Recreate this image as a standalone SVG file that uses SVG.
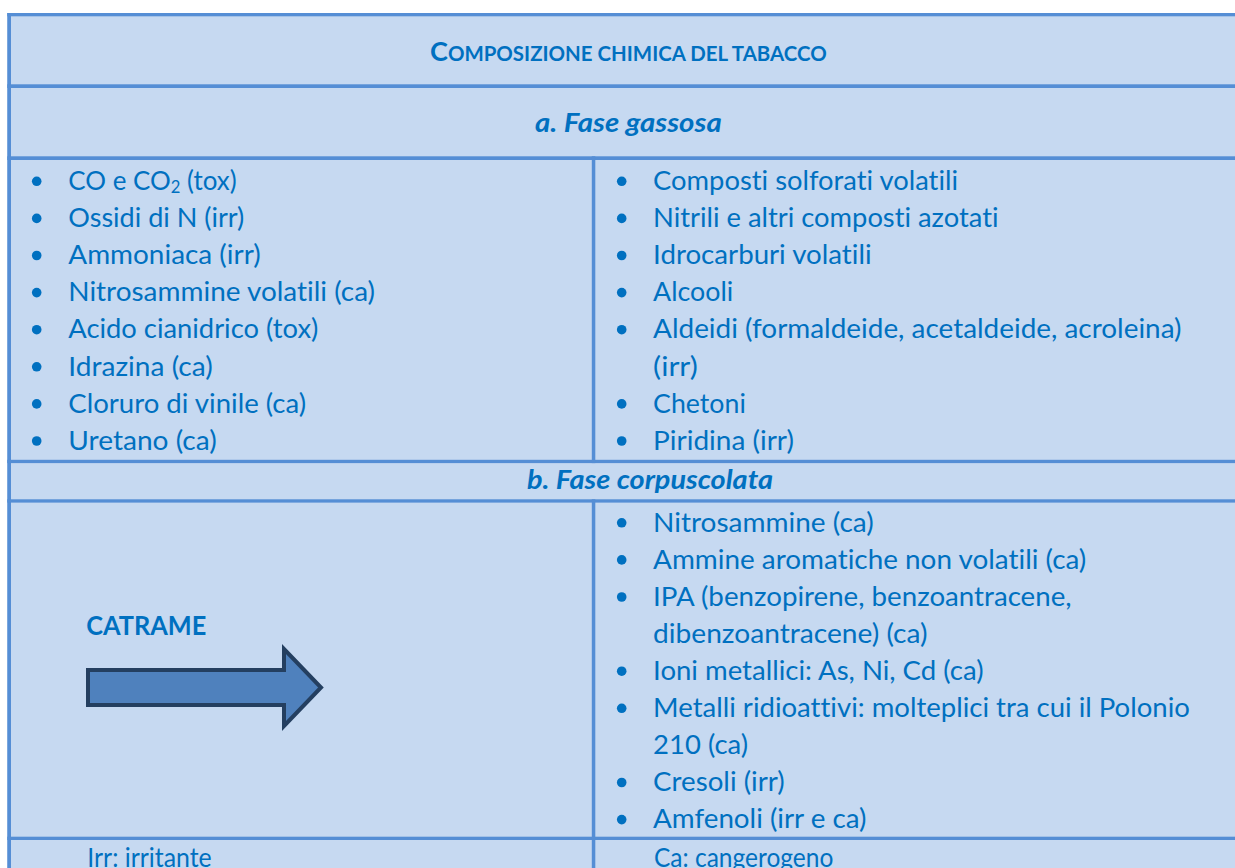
<svg xmlns="http://www.w3.org/2000/svg" width="1235" height="868" viewBox="0 0 1235 868">
<style>
.t{font-family:Lato,'Open Sans','Liberation Sans',sans-serif;font-size:26.5px;fill:#0070C0;font-variant-ligatures:none;font-feature-settings:"liga" 0,"clig" 0}
.bd{font-weight:bold}
.bi{font-weight:bold;font-style:italic}
.ln{fill:#558ED5}
.bul{fill:#0070C0}
</style>
<rect x="0" y="0" width="1235" height="868" fill="#FFFFFF"/>
<g id="table">
<rect x="7.3" y="13" width="1228" height="855" fill="#C6D9F1"/>
<rect class="ln" x="7.3" y="13" width="1228" height="3.3"/>
<rect class="ln" x="7.3" y="13" width="3.7" height="855"/>
<rect class="ln" x="7.3" y="84.3" width="1228" height="3.7"/>
<rect class="ln" x="7.3" y="156.3" width="1228" height="3.7"/>
<rect class="ln" x="7.3" y="459.8" width="1228" height="3.3"/>
<rect class="ln" x="7.3" y="499.3" width="1228" height="3.3"/>
<rect class="ln" x="7.3" y="836.7" width="1228" height="3.3"/>
<rect class="ln" x="591.8" y="156.3" width="3.5" height="306.8"/>
<rect class="ln" x="591.8" y="499.3" width="3.5" height="368.7"/>
</g>
<g id="title">
<text class="t bd" x="430" y="61" textLength="396.7" lengthAdjust="spacingAndGlyphs"><tspan font-size="26.5">C</tspan><tspan font-size="20">OMPOSIZIONE CHIMICA DEL TABACCO</tspan></text>
</g>
<g id="fase-gassosa-header">
<text class="t bi" x="535" y="132" textLength="186.7" lengthAdjust="spacingAndGlyphs">a. Fase gassosa</text>
</g>
<g id="fase-gassosa-left">
<circle class="bul" cx="36.7" cy="181.3" r="4.8"/>
<circle class="bul" cx="36.7" cy="218.4" r="4.8"/>
<circle class="bul" cx="36.7" cy="255.5" r="4.8"/>
<circle class="bul" cx="36.7" cy="292.6" r="4.8"/>
<circle class="bul" cx="36.7" cy="329.7" r="4.8"/>
<circle class="bul" cx="36.7" cy="366.8" r="4.8"/>
<circle class="bul" cx="36.7" cy="403.9" r="4.8"/>
<circle class="bul" cx="36.7" cy="441" r="4.8"/>
<text class="t" x="68.3" y="190" textLength="168.4" lengthAdjust="spacingAndGlyphs">CO e CO<tspan font-size="17" dy="3">2</tspan><tspan dy="-3"> (tox)</tspan></text>
<text class="t" x="68.3" y="227.1" textLength="176" lengthAdjust="spacingAndGlyphs">Ossidi di N (irr)</text>
<text class="t" x="68.3" y="264.2" textLength="192.4" lengthAdjust="spacingAndGlyphs">Ammoniaca (irr)</text>
<text class="t" x="68.3" y="301.3" textLength="306.7" lengthAdjust="spacingAndGlyphs">Nitrosammine volatili (ca)</text>
<text class="t" x="68.3" y="338.4" textLength="250" lengthAdjust="spacingAndGlyphs">Acido cianidrico (tox)</text>
<text class="t" x="68.3" y="375.5" textLength="144.4" lengthAdjust="spacingAndGlyphs">Idrazina (ca)</text>
<text class="t" x="68.3" y="412.6" textLength="237.7" lengthAdjust="spacingAndGlyphs">Cloruro di vinile (ca)</text>
<text class="t" x="68.3" y="449.7" textLength="148.4" lengthAdjust="spacingAndGlyphs">Uretano (ca)</text>
</g>
<g id="fase-gassosa-right">
<circle class="bul" cx="621.7" cy="181.3" r="4.8"/>
<circle class="bul" cx="621.7" cy="218.4" r="4.8"/>
<circle class="bul" cx="621.7" cy="255.5" r="4.8"/>
<circle class="bul" cx="621.7" cy="292.6" r="4.8"/>
<circle class="bul" cx="621.7" cy="329.7" r="4.8"/>
<circle class="bul" cx="621.7" cy="403.9" r="4.8"/>
<circle class="bul" cx="621.7" cy="441" r="4.8"/>
<text class="t" x="653.1" y="190" textLength="304.9" lengthAdjust="spacingAndGlyphs">Composti solforati volatili</text>
<text class="t" x="653.1" y="227.1" textLength="345.4" lengthAdjust="spacingAndGlyphs">Nitrili e altri composti azotati</text>
<text class="t" x="653.1" y="264.2" textLength="218.5" lengthAdjust="spacingAndGlyphs">Idrocarburi volatili</text>
<text class="t" x="653.1" y="301.3" textLength="80.2" lengthAdjust="spacingAndGlyphs">Alcooli</text>
<text class="t" x="653.1" y="338.4" textLength="528.4" lengthAdjust="spacingAndGlyphs">Aldeidi (formaldeide, acetaldeide, acroleina)</text>
<text class="t" x="653.1" y="375.5" textLength="44.7" lengthAdjust="spacingAndGlyphs">(irr)</text>
<text class="t" x="653.1" y="412.6" textLength="92.7" lengthAdjust="spacingAndGlyphs">Chetoni</text>
<text class="t" x="653.1" y="449.7" textLength="140.8" lengthAdjust="spacingAndGlyphs">Piridina (irr)</text>
</g>
<g id="fase-corpuscolata-header">
<text class="t bi" x="527" y="488.5" textLength="246" lengthAdjust="spacingAndGlyphs">b. Fase corpuscolata</text>
</g>
<g id="catrame">
<text class="t bd" x="86.2" y="635" textLength="120.2" lengthAdjust="spacingAndGlyphs">CATRAME</text>
</g>
<g id="catrame-arrow">
<path d="M88,670 H284 V649 L321,687.5 L284,726 V705 H88 Z" fill="#4F81BD" stroke="#243F60" stroke-width="4"/>
</g>
<g id="fase-corpuscolata-right">
<circle class="bul" cx="621.7" cy="522.8" r="4.8"/>
<circle class="bul" cx="621.7" cy="559.9" r="4.8"/>
<circle class="bul" cx="621.7" cy="597" r="4.8"/>
<circle class="bul" cx="621.7" cy="671.2" r="4.8"/>
<circle class="bul" cx="621.7" cy="708.3" r="4.8"/>
<circle class="bul" cx="621.7" cy="782.5" r="4.8"/>
<circle class="bul" cx="621.7" cy="819.6" r="4.8"/>
<text class="t" x="653.1" y="531.5" textLength="220.6" lengthAdjust="spacingAndGlyphs">Nitrosammine (ca)</text>
<text class="t" x="653.1" y="568.6" textLength="433.2" lengthAdjust="spacingAndGlyphs">Ammine aromatiche non volatili (ca)</text>
<text class="t" x="653.1" y="605.7" textLength="418.5" lengthAdjust="spacingAndGlyphs">IPA (benzopirene, benzoantracene,</text>
<text class="t" x="653.1" y="642.8" textLength="274.4" lengthAdjust="spacingAndGlyphs">dibenzoantracene) (ca)</text>
<text class="t" x="653.1" y="679.9" textLength="330.4" lengthAdjust="spacingAndGlyphs">Ioni metallici: As, Ni, Cd (ca)</text>
<text class="t" x="653.1" y="717" textLength="536.8" lengthAdjust="spacingAndGlyphs">Metalli ridioattivi: molteplici tra cui il Polonio</text>
<text class="t" x="653.1" y="754.1" textLength="94.9" lengthAdjust="spacingAndGlyphs">210 (ca)</text>
<text class="t" x="653.1" y="791.2" textLength="131.6" lengthAdjust="spacingAndGlyphs">Cresoli (irr)</text>
<text class="t" x="653.1" y="828.3" textLength="213.4" lengthAdjust="spacingAndGlyphs">Amfenoli (irr e ca)</text>
</g>
<g id="legend-left">
<text class="t" x="87.3" y="866.5" textLength="124.4" lengthAdjust="spacingAndGlyphs">Irr: irritante</text>
</g>
<g id="legend-right">
<text class="t" x="654" y="866.5" textLength="179.3" lengthAdjust="spacingAndGlyphs">Ca: cangerogeno</text>
</g>
<g id="connectors"></g>
</svg>
